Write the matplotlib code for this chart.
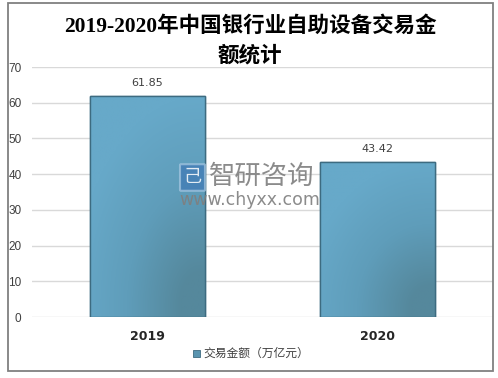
import matplotlib.pyplot as plt
import numpy as np
from matplotlib.patches import Rectangle, FancyBboxPatch
from matplotlib.colors import LinearSegmentedColormap

years = ["2019", "2020"]
amounts = [61.85, 43.42]
yticks = [0, 10, 20, 30, 40, 50, 60, 70]

title = "2019-2020年中国银行业自助设备交易金额统计"
legend_label = "交易金额（万亿元）"

plt.rcParams["font.family"] = ["Noto Sans CJK SC", "DejaVu Sans"]

fig = plt.figure(figsize=(4.98, 3.78), dpi=100)
ax = fig.add_axes([32 / 498, 1 - 317 / 378, 461 / 498, 250 / 378])

x = np.arange(len(years))
bars = ax.bar(x, amounts, width=0.5, color="#63a5c4", edgecolor="#3d6b80",
              linewidth=1.0, zorder=3)

# shading inside the bars: light at the top, darker towards lower right
cmap = LinearSegmentedColormap.from_list("bar", ["#67a9c9", "#5f9dba", "#55889c"])
gy, gx = np.mgrid[0:1:200j, 0:1:100j]
dist = np.sqrt(((gx - 0.95) / 1.1) ** 2 + ((gy - 0.05) / 0.95) ** 2)
shade = np.clip(1 - dist, 0, 1)
for b in bars:
    im = ax.imshow(shade, cmap=cmap, origin="lower", aspect="auto", vmin=0, vmax=0.85,
                   extent=[b.get_x(), b.get_x() + b.get_width(), 0, b.get_height()],
                   zorder=3.5, interpolation="bilinear")
    im.set_clip_path(b)
    ax.add_patch(Rectangle((b.get_x(), 0), b.get_width(), b.get_height(),
                           fill=False, edgecolor="#3d6b80", linewidth=1.0, zorder=4))

for xi, v in zip(x, amounts):
    ax.text(xi, v + 2.2, f"{v:.2f}", ha="center", va="bottom", fontsize=8,
            color="#404040", family=["DejaVu Sans"])

ax.set_xlim(-0.5, 1.5)
ax.set_ylim(0, 70)
ax.set_yticks(yticks)
ax.set_xticks(x)
ax.set_xticklabels(years, fontsize=9, fontweight="bold", color="#262626",
                   family=["DejaVu Sans"])
ax.tick_params(axis="y", length=0, pad=7.5, labelsize=8.5, labelcolor="#404040")
ax.tick_params(axis="x", length=0, pad=9)
for lab in ax.get_yticklabels():
    lab.set_family(["Liberation Sans"])
ax.grid(axis="y", color="#d9d9d9", linewidth=1.0, zorder=0)
for s in ax.spines.values():
    s.set_visible(False)
ax.set_axisbelow(True)

# title
fig.text(250 / 498, 1 - 27 / 378, title[:22], ha="center", va="center", fontsize=15.5,
         fontweight="bold", family=["Liberation Serif", "Noto Sans CJK SC"])
fig.text(250 / 498, 1 - 56 / 378, title[22:], ha="center", va="center", fontsize=15.5,
         fontweight="bold", family=["Liberation Serif", "Noto Sans CJK SC"])

# legend
fig.patches.append(Rectangle((193 / 498, 1 - 357 / 378), 7 / 498, 7 / 378,
                             transform=fig.transFigure, facecolor="#5a95b0",
                             edgecolor="#3d6b80", linewidth=0.6))
fig.text(203 / 498, 1 - 353 / 378, legend_label, ha="left", va="center",
         fontsize=8.5, color="#404040")

# watermark
fig.patches.append(FancyBboxPatch((181 / 498, 1 - 190 / 378), 23 / 498, 25 / 378,
                                  boxstyle="round,pad=0.002", transform=fig.transFigure,
                                  facecolor="#3f78b5", edgecolor="#a9c9e3",
                                  linewidth=1.5, alpha=0.7, zorder=5))
fig.text(192.5 / 498, 1 - 177 / 378, "己", ha="center", va="center", fontsize=13,
         color="white", alpha=0.85, zorder=6)
fig.text(209 / 498, 1 - 176 / 378, "智研咨询", ha="left", va="center", fontsize=19,
         color="#7f7f7f", alpha=0.9, zorder=6)
fig.text(179 / 498, 1 - 200 / 378, "www.chyxx.com", ha="left", va="center",
         fontsize=12.5, color="#7f7f7f", alpha=0.9, zorder=6,
         family=["DejaVu Sans"])

# outer frame
fig.patches.append(Rectangle((7.5 / 498, 1 - 371 / 378), 485.5 / 498, 368 / 378,
                             transform=fig.transFigure, fill=False,
                             edgecolor="#808080", linewidth=1.3))

fig.savefig("out.png", dpi=100)
